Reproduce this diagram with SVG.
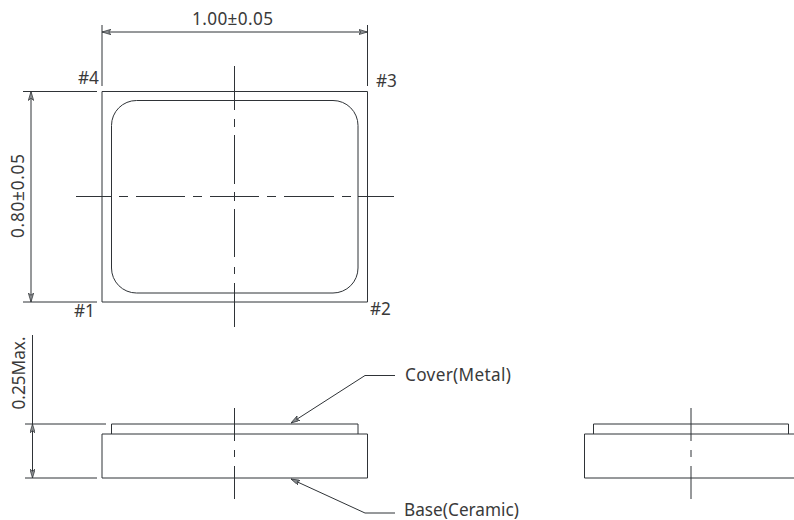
<svg xmlns="http://www.w3.org/2000/svg" width="794" height="520" viewBox="0 0 794 520">
<style>
.l{fill:none;stroke:#2f3337;stroke-width:1}
.t{font-family:"Noto Sans","Open Sans",sans-serif;font-size:17.2px;fill:#3a3a3a}
</style>
<defs>
<marker id="a" viewBox="0 0 10 6" refX="10" refY="3" markerWidth="9" markerHeight="5.4" markerUnits="userSpaceOnUse" orient="auto-start-reverse"><path d="M0 0L10 3L0 6L2.5 3Z" fill="#8a8d90" stroke="#2f3337" stroke-width="0.8"/></marker>
</defs>
<rect width="794" height="520" fill="#fff"/>
<g id="top-view">
<path class="l" d="M102 91.5H367.5V302H102Z"/>
<path class="l" d="M136.500 100.500H333A25 25 0 0 1 358 125.500V268A25 25 0 0 1 333 293H136.500A25 25 0 0 1 111.500 268V125.500A25 25 0 0 1 136.500 100.500Z"/>
</g>
<g id="side-view">
<path class="l" d="M102 478V434H367.500V478ZM111.500 434V424H358V434"/>
</g>
<g id="end-view">
<path class="l" d="M794 434H584.500V478H794M593.500 434V424H788.500V434"/>
</g>
<g id="connectors">
<path class="l" d="M102 25V86M367.500 25V86M23 91.500H97M23 302H97M25 424H106M25 478H97"/>
<path class="l" marker-start="url(#a)" marker-end="url(#a)" d="M102 32H367.500"/>
<path class="l" marker-start="url(#a)" marker-end="url(#a)" d="M31 91.500V302"/>
<path class="l" d="M32.500 335V424"/>
<path class="l" marker-start="url(#a)" marker-end="url(#a)" d="M32.500 424V478"/>
<path class="l" d="M234.500 66V110M234.500 119V127M234.500 135V184M234.500 192V201M234.500 209V257M234.500 267V274M234.500 283V327"/>
<path class="l" d="M76 196.500H111M119 196.500H128M136 196.500H185M193 196.500H202M210 196.500H259M267 196.500H276M284 196.500H334M342 196.500H351M358 196.500H394"/>
<path class="l" d="M234.500 408V441M234.500 450V457M234.500 466V499M691 408V441M691 450V457M691 466V499"/>
<path class="l" marker-end="url(#a)" d="M395 375.500H365L291 423"/>
<path class="l" marker-end="url(#a)" d="M395 513H365L291 479"/>
</g>
<g id="labels">
<text class="t" x="192" y="25" textLength="81">1.00±0.05</text>
<text class="t" x="78" y="83.500">#4</text>
<text class="t" x="376" y="87">#3</text>
<text class="t" x="74" y="316.500">#1</text>
<text class="t" x="370" y="315">#2</text>
<text class="t" transform="translate(24 238) rotate(-90)" textLength="84">0.80±0.05</text>
<text class="t" transform="translate(25 409.500) rotate(-90)">0.25Max.</text>
<text class="t" x="405" y="380.500" textLength="106">Cover(Metal)</text>
<text class="t" x="404" y="515.500" textLength="115">Base(Ceramic)</text>
</g>
</svg>
